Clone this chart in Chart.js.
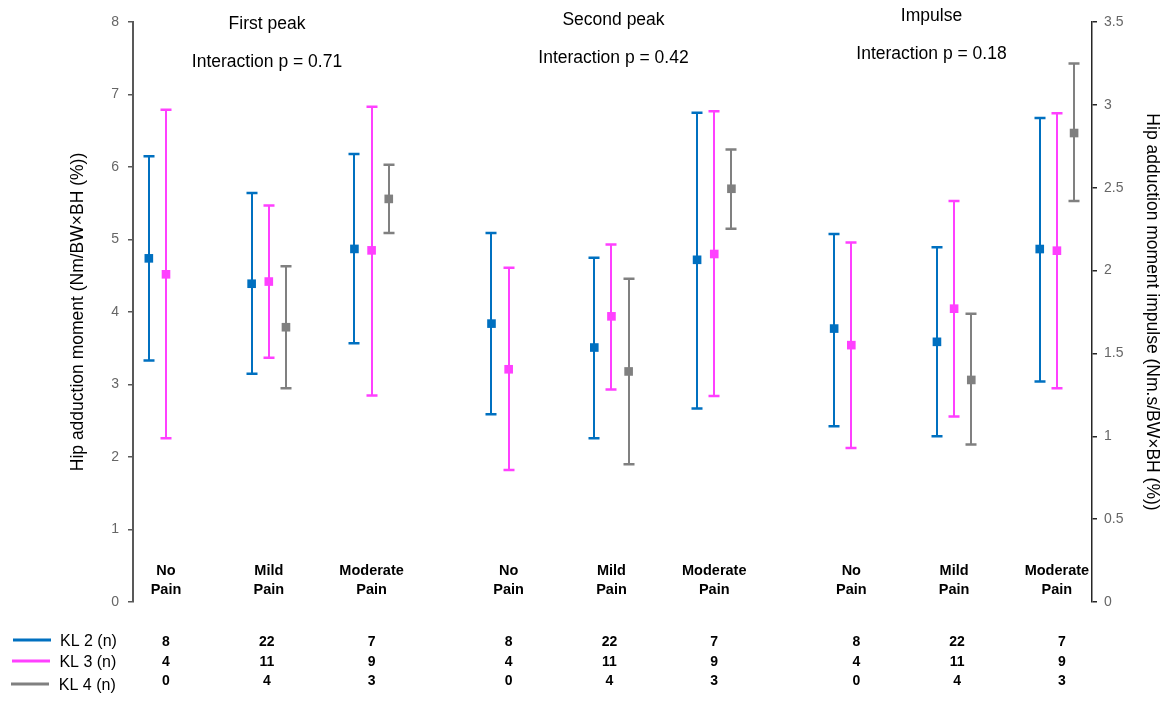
<!DOCTYPE html>
<html>
<head>
<meta charset="utf-8">
<script src="https://cdn.jsdelivr.net/npm/chart.js@4/dist/chart.umd.min.js"></script>
<style>
  html, body { margin: 0; padding: 0; background: #ffffff; }
  canvas { display: block; }
</style>
</head>
<body>
<canvas id="chart" width="1173" height="702"></canvas>
<script>
// ---- data ----------------------------------------------------------------
const measures = ['First peak', 'Second peak', 'Impulse'];
const interactionP = ['0.71', '0.42', '0.18'];
const painLevels = [['No', 'Pain'], ['Mild', 'Pain'], ['Moderate', 'Pain']];
const seriesNames = ['KL 2 (n)', 'KL 3 (n)', 'KL 4 (n)'];

// nine points per series: first peak (no/mild/moderate), second peak (…), impulse (…)
const kl2Mean  = [4.74, 4.39, 4.87, 3.84, 3.51, 4.72, 1.65, 1.57, 2.13];
const kl2Lower = [3.33, 3.15, 3.57, 2.59, 2.26, 2.67, 1.06, 1.00, 1.33];
const kl2Upper = [6.15, 5.64, 6.18, 5.09, 4.75, 6.75, 2.22, 2.14, 2.92];

const kl3Mean  = [4.52, 4.42, 4.85, 3.21, 3.94, 4.80, 1.55, 1.77, 2.12];
const kl3Lower = [2.26, 3.37, 2.85, 1.82, 2.93, 2.84, 0.93, 1.12, 1.29];
const kl3Upper = [6.79, 5.47, 6.83, 4.61, 4.93, 6.77, 2.17, 2.42, 2.95];

const kl4Mean  = [null, 3.79, 5.56, null, 3.18, 5.70, null, 1.34, 2.83];
const kl4Lower = [null, 2.95, 5.09, null, 1.90, 5.15, null, 0.95, 2.42];
const kl4Upper = [null, 4.63, 6.03, null, 4.46, 6.24, null, 1.74, 3.25];

const kl2Count = [8, 22, 7];
const kl3Count = [4, 11, 9];
const kl4Count = [0, 4, 3];

const momentTicks  = [0, 1, 2, 3, 4, 5, 6, 7, 8];
const impulseTicks = [0, 0.5, 1, 1.5, 2, 2.5, 3, 3.5];

// ---- styling / layout -----------------------------------------------------
const FONT = '"Liberation Sans", Arial, Helvetica, sans-serif';
const COLORS = ['#0070C0', '#FF40FF', '#808080'];
const GROUP_STRIDE = 10 / 3;          // gap between measure groups on the x scale
const SERIES_SHIFT = [-0.167, 0, 0.167];

const series = [
  { mean: kl2Mean, lo: kl2Lower, hi: kl2Upper, n: kl2Count },
  { mean: kl3Mean, lo: kl3Lower, hi: kl3Upper, n: kl3Count },
  { mean: kl4Mean, lo: kl4Lower, hi: kl4Upper, n: kl4Count }
];

function catPos(i) {
  return Math.floor(i / 3) * GROUP_STRIDE + (i % 3);
}

function buildPoints(s, from, to) {
  const pts = [];
  for (let i = from; i < to; i++) {
    const m = series[s].mean[i];
    if (m === null) continue;
    pts.push({ x: catPos(i) + SERIES_SHIFT[s], y: m, lo: series[s].lo[i], hi: series[s].hi[i] });
  }
  return pts;
}

const datasets = [];
// peaks on the left axis, impulse on the right axis
[['y', 0, 6], ['y1', 6, 9]].forEach(([axis, from, to]) => {
  series.forEach((_, s) => {
    datasets.push({
      label: seriesNames[s],
      yAxisID: axis,
      data: buildPoints(s, from, to),
      barColor: COLORS[s],
      backgroundColor: COLORS[s],
      borderColor: COLORS[s],
      borderWidth: 0,
      pointStyle: 'rect',
      pointRadius: 6.1,
      showLine: false
    });
  });
});

// whiskers with caps, drawn under the markers
const errorBars = {
  id: 'errorBars',
  beforeDatasetsDraw(chart) {
    const ctx = chart.ctx;
    ctx.save();
    chart.data.datasets.forEach((ds, i) => {
      const meta = chart.getDatasetMeta(i);
      const ys = chart.scales[ds.yAxisID];
      meta.data.forEach((pt, j) => {
        const d = ds.data[j];
        const yl = ys.getPixelForValue(d.lo);
        const yh = ys.getPixelForValue(d.hi);
        const x = Math.round(pt.x);
        ctx.strokeStyle = ds.barColor;
        ctx.lineWidth = 2;
        ctx.beginPath();
        ctx.moveTo(x, yl);
        ctx.lineTo(x, yh);
        ctx.stroke();
        ctx.lineWidth = 2.5;
        ctx.beginPath();
        ctx.moveTo(x - 5.5, yl); ctx.lineTo(x + 5.5, yl);
        ctx.moveTo(x - 5.5, yh); ctx.lineTo(x + 5.5, yh);
        ctx.stroke();
      });
    });
    ctx.restore();
  }
};

// headings, category labels, counts table and legend
const annotations = {
  id: 'annotations',
  afterDraw(chart) {
    const ctx = chart.ctx;
    const xs = chart.scales.x;
    const area = chart.chartArea;
    ctx.save();
    ctx.fillStyle = '#000';
    ctx.textBaseline = 'middle';
    ctx.textAlign = 'center';

    const headX = [267, 613.5, 931.5];
    const headY = [24, 20, 16];
    ctx.font = '17.5px ' + FONT;
    measures.forEach((m, g) => {
      ctx.fillText(m, headX[g], headY[g]);
      ctx.fillText('Interaction p = ' + interactionP[g], headX[g], headY[g] + 38);
    });

    ctx.font = 'bold 14.5px ' + FONT;
    for (let i = 0; i < 9; i++) {
      const px = xs.getPixelForValue(catPos(i));
      const lbl = painLevels[i % 3];
      ctx.fillText(lbl[0], px, area.bottom - 31);
      ctx.fillText(lbl[1], px, area.bottom - 12);
    }

    ctx.font = 'bold 14px ' + FONT;
    const rowY = [642, 662, 681];
    for (let i = 0; i < 9; i++) {
      const px = xs.getPixelForValue(catPos(i)) + (i >= 6 ? 5 : 0) - (i % 3 === 1 ? 2 : 0);
      series.forEach((s, r) => {
        ctx.fillText(String(s.n[i % 3]), px, rowY[r]);
      });
    }

    const legY = [640, 661, 684];
    ctx.textAlign = 'left';
    ctx.font = '16px ' + FONT;
    seriesNames.forEach((name, r) => {
      ctx.strokeStyle = COLORS[r];
      ctx.lineWidth = 3;
      ctx.beginPath();
      ctx.moveTo(13 - r, legY[r]);
      ctx.lineTo(51 - r, legY[r]);
      ctx.stroke();
      ctx.fillText(name, 60 - r * 0.6, legY[r] + 2);
    });
    ctx.restore();
  }
};

Chart.defaults.font.family = FONT;

new Chart(document.getElementById('chart'), {
  type: 'scatter',
  data: { datasets },
  plugins: [errorBars, annotations],
  options: {
    responsive: false,
    animation: false,
    devicePixelRatio: 1,
    layout: { padding: { top: 22, bottom: 100, left: 0, right: 0 } },
    plugins: { legend: { display: false }, tooltip: { enabled: false } },
    scales: {
      x: { type: 'linear', min: -0.321, max: 9.008, display: false },
      y: {
        position: 'left',
        min: 0, max: 8,
        afterBuildTicks: s => { s.ticks = momentTicks.map(v => ({ value: v })); },
        afterFit: s => { s.width = 133; },
        border: { display: true, color: '#595959', width: 2 },
        grid: { drawOnChartArea: false, drawTicks: true, tickLength: 5, color: '#595959', lineWidth: 1.5 },
        ticks: { color: '#666666', font: { size: 14 }, padding: 9, callback: v => String(v) },
        title: {
          display: true,
          text: 'Hip adduction moment (Nm/BW×BH (%))',
          color: '#000',
          font: { size: 17.5 },
          padding: { top: 67.5, bottom: 0 }
        }
      },
      y1: {
        position: 'right',
        min: 0, max: 3.5,
        afterBuildTicks: s => { s.ticks = impulseTicks.map(v => ({ value: v })); },
        afterFit: s => { s.width = 81; },
        border: { display: true, color: '#262626', width: 1.5 },
        grid: { drawOnChartArea: false, drawTicks: true, tickLength: 5, color: '#262626', lineWidth: 1.5 },
        ticks: { color: '#666666', font: { size: 14 }, padding: 7, callback: v => String(v) },
        title: {
          display: true,
          text: 'Hip adduction moment impulse (Nm.s/BW×BH (%))',
          color: '#000',
          font: { size: 17.5 },
          padding: { top: 10.8, bottom: 0 }
        }
      }
    }
  }
});
</script>
</body>
</html>
